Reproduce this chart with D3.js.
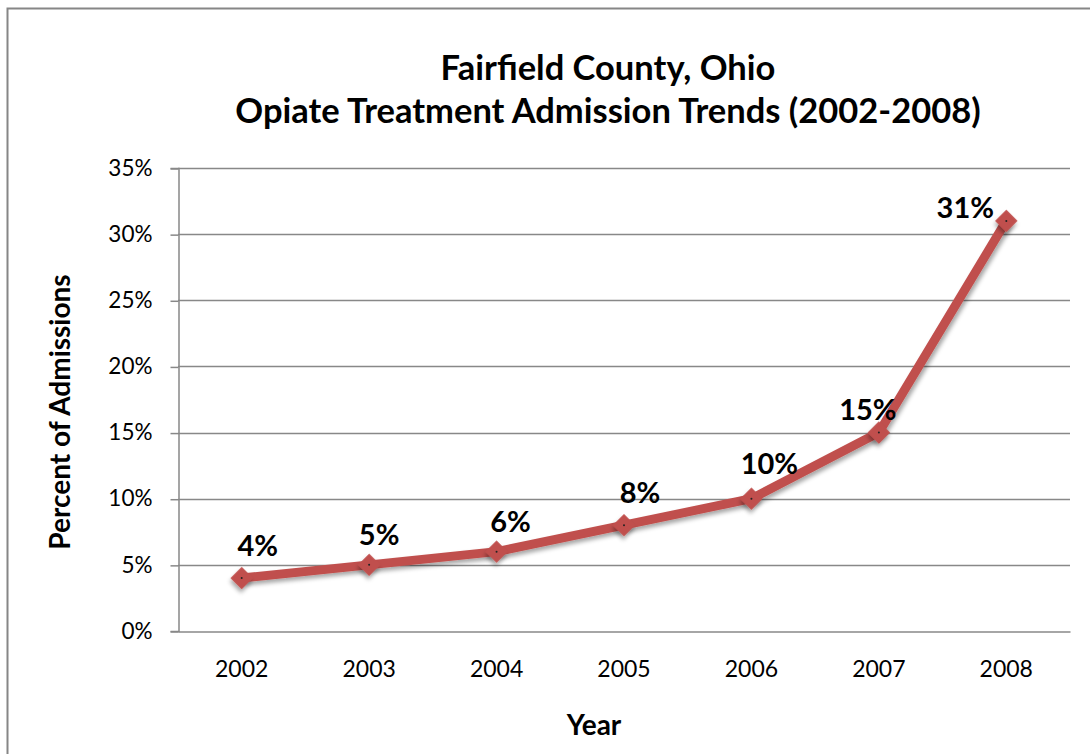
<!DOCTYPE html>
<html>
<head>
<meta charset="utf-8">
<script src="https://cdn.jsdelivr.net/npm/d3@7"></script>
<style>
  html, body { margin: 0; padding: 0; background: #fff; }
  svg { display: block; }
</style>
</head>
<body>
<svg id="chart" width="1090" height="754"></svg>
<script>
// ---- data ----
const years = ["2002", "2003", "2004", "2005", "2006", "2007", "2008"];
const percentValues = [4, 5, 6, 8, 10, 15, 31];
const yTicks = [0, 5, 10, 15, 20, 25, 30, 35];
const titleLines = ["Fairfield County, Ohio", "Opiate Treatment Admission Trends (2002-2008)"];
const xTitle = "Year";
const yTitle = "Percent of Admissions";

// ---- layout ----
const W = 1090, H = 754;
const plot = { left: 178, right: 1070, top: 168, bottom: 631 };
const FONT = "Lato, 'Open Sans', 'Liberation Sans', sans-serif";
const RED = "#C0504D";

const svg = d3.select("#chart");

const defs = svg.append("defs");
const f = defs.append("filter").attr("id", "shadow")
  .attr("x", "-50%").attr("y", "-50%").attr("width", "200%").attr("height", "200%");
f.append("feDropShadow").attr("dx", 2).attr("dy", 3).attr("stdDeviation", 2)
  .attr("flood-color", "#000").attr("flood-opacity", 0.35);

// frame
svg.append("rect")
  .attr("x", 7.5).attr("y", 8.5).attr("width", W + 20).attr("height", H + 20)
  .attr("fill", "#fff").attr("stroke", "#868686").attr("stroke-width", 2);

const x = d3.scaleBand().domain(years).range([plot.left, plot.right]).padding(0);
const y = d3.scaleLinear().domain([0, 35]).range([plot.bottom, plot.top]);

// gridlines
svg.append("g").selectAll("line").data(yTicks.filter(d => d > 0)).join("line")
  .attr("x1", plot.left).attr("x2", plot.right)
  .attr("y1", d => Math.round(y(d)) + 0.5).attr("y2", d => Math.round(y(d)) + 0.5)
  .attr("stroke", "#888").attr("stroke-width", 1.5);

// y axis
const yAxis = d3.axisLeft(y).tickValues(yTicks).tickFormat(d => d + "%").tickSizeOuter(0).tickSize(8).tickPadding(18);
const yg = svg.append("g").attr("transform", `translate(${plot.left + 0.5},0)`).call(yAxis);
yg.select(".domain").attr("stroke", "#888").attr("stroke-width", 1.5);
yg.selectAll(".tick line").attr("stroke", "#888").attr("stroke-width", 1.5)
  .attr("transform", "translate(0,0.5)");
yg.selectAll(".tick text").attr("font-family", FONT).attr("font-size", 22.5).attr("fill", "#000");

// x axis
const xAxis = d3.axisBottom(x).tickSize(0).tickPadding(29).tickSizeOuter(0);
const xg = svg.append("g").attr("transform", `translate(0,${Math.round(plot.bottom) + 0.5})`).call(xAxis);
xg.select(".domain").attr("stroke", "#888").attr("stroke-width", 1.5);
xg.selectAll(".tick text").attr("font-family", FONT).attr("font-size", 23).attr("fill", "#000");

// line
const data = years.map((yr, i) => ({ year: yr, value: percentValues[i] }));
const cx = d => x(d.year) + x.bandwidth() / 2;
const line = d3.line().x(cx).y(d => y(d.value));
svg.append("path").datum(data)
  .attr("d", line).attr("fill", "none").attr("stroke", RED)
  .attr("stroke-width", 9).attr("stroke-linejoin", "round").attr("filter", "url(#shadow)");

// markers
const diamond = d3.symbol().type(d3.symbolSquare).size(250);
const mk = svg.append("g").selectAll("g").data(data).join("g")
  .attr("transform", d => `translate(${cx(d)},${y(d.value)})`);
mk.append("path").attr("d", diamond).attr("transform", "rotate(45)")
  .attr("fill", RED).attr("filter", "url(#shadow)");
mk.append("circle").attr("r", 1).attr("fill", "#222");

// data labels
const labelDx = [16, 10, 14, 16, 18, -11, -41];
const labelDy = [-22, -20, -20, -22, -25, -13, -3];
svg.append("g").selectAll("text").data(data).join("text")
  .attr("x", (d, i) => cx(d) + labelDx[i])
  .attr("y", (d, i) => y(d.value) + labelDy[i])
  .attr("text-anchor", "middle")
  .attr("font-family", FONT).attr("font-weight", "bold").attr("font-size", 29)
  .text(d => d.value + "%");

// title
svg.append("g").selectAll("text").data(titleLines).join("text")
  .attr("x", 608).attr("y", (d, i) => 80 + i * 43)
  .attr("text-anchor", "middle")
  .attr("font-family", FONT).attr("font-weight", "bold").attr("font-size", 34.5)
  .text(d => d);

// axis titles
svg.append("text").attr("x", 594).attr("y", 735).attr("text-anchor", "middle")
  .attr("font-family", FONT).attr("font-weight", "bold").attr("font-size", 28).text(xTitle);
svg.append("text").attr("transform", "translate(70,412) rotate(-90)").attr("text-anchor", "middle")
  .attr("font-family", FONT).attr("font-weight", "bold").attr("font-size", 28).text(yTitle);
</script>
</body>
</html>
